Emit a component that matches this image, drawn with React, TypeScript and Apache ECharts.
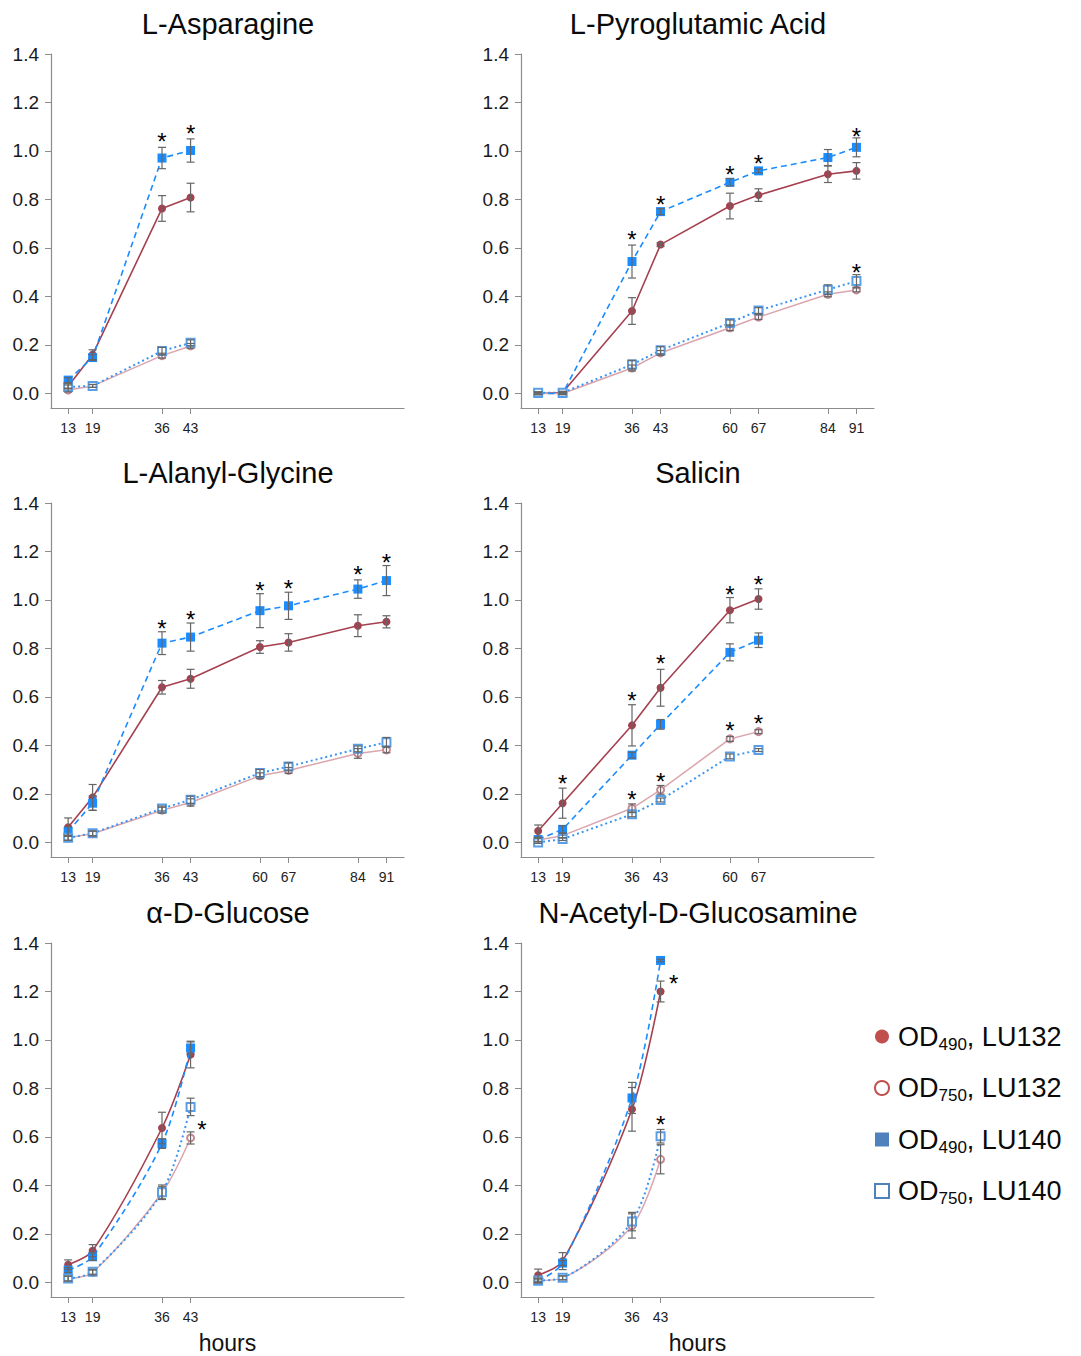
import React, { useEffect, useRef } from "react";
import * as echarts from "echarts";

const TITLES = ["L-Asparagine", "L-Pyroglutamic Acid", "L-Alanyl-Glycine", "Salicin", "α-D-Glucose", "N-Acetyl-D-Glucosamine"];
const SERIES_NAMES = ["OD490, LU132", "OD750, LU132", "OD490, LU140", "OD750, LU140"];
const Y_TICKS = [0, 0.2, 0.4, 0.6, 0.8, 1.0, 1.2, 1.4];
const X_AXIS_NAME = "hours";

// L-Asparagine
const ASN_HOURS = [13, 19, 36, 43];
const ASN_R490 = [0.03, 0.16, 0.763, 0.808];
const ASN_R490_ERR = [0.01, 0.02, 0.053, 0.059];
const ASN_R750 = [0.014, 0.031, 0.156, 0.196];
const ASN_R750_ERR = [0.008, 0.006, 0.01, 0.01];
const ASN_B490 = [0.055, 0.148, 0.971, 1.002];
const ASN_B490_ERR = [0.01, 0.012, 0.044, 0.048];
const ASN_B750 = [0.027, 0.031, 0.175, 0.209];
const ASN_B750_ERR = [0.008, 0.006, 0.015, 0.012];
const ASN_STARS = [[36, 1.064], [43, 1.095]];

// L-Pyroglutamic Acid
const PGA_HOURS = [13, 19, 36, 43, 60, 67, 84, 91];
const PGA_R490 = [0.0, 0.004, 0.34, 0.614, 0.773, 0.818, 0.904, 0.918];
const PGA_R490_ERR = [0.005, 0.005, 0.055, 0.008, 0.053, 0.026, 0.034, 0.034];
const PGA_R750 = [0.0, 0.0, 0.105, 0.167, 0.271, 0.315, 0.409, 0.427];
const PGA_R750_ERR = [0.004, 0.004, 0.012, 0.01, 0.012, 0.01, 0.01, 0.008];
const PGA_B490 = [0.0, 0.0, 0.544, 0.75, 0.871, 0.918, 0.973, 1.015];
const PGA_B490_ERR = [0.005, 0.005, 0.068, 0.012, 0.015, 0.008, 0.033, 0.039];
const PGA_B750 = [0.003, 0.003, 0.119, 0.178, 0.291, 0.342, 0.428, 0.464];
const PGA_B750_ERR = [0.004, 0.004, 0.018, 0.015, 0.012, 0.012, 0.02, 0.026];
const PGA_STARS = [[36, 0.661], [43, 0.806], [60, 0.928], [67, 0.972], [91, 1.085], [91, 0.525]];

// L-Alanyl-Glycine
const ALG_HOURS = [13, 19, 36, 43, 60, 67, 84, 91];
const ALG_R490 = [0.063, 0.186, 0.64, 0.675, 0.806, 0.825, 0.894, 0.91];
const ALG_R490_ERR = [0.038, 0.053, 0.028, 0.039, 0.026, 0.036, 0.045, 0.025];
const ALG_R750 = [0.019, 0.036, 0.133, 0.165, 0.275, 0.297, 0.367, 0.382];
const ALG_R750_ERR = [0.01, 0.01, 0.012, 0.015, 0.012, 0.012, 0.02, 0.012];
const ALG_B490 = [0.045, 0.162, 0.822, 0.847, 0.956, 0.976, 1.045, 1.08];
const ALG_B490_ERR = [0.02, 0.03, 0.047, 0.058, 0.07, 0.056, 0.038, 0.062];
const ALG_B750 = [0.019, 0.038, 0.14, 0.176, 0.286, 0.313, 0.386, 0.413];
const ALG_B750_ERR = [0.01, 0.01, 0.01, 0.015, 0.015, 0.015, 0.012, 0.02];
const ALG_STARS = [[36, 0.908], [43, 0.946], [60, 1.064], [67, 1.073], [84, 1.128], [91, 1.18]];

// Salicin
const SAL_HOURS = [13, 19, 36, 43, 60, 67];
const SAL_R490 = [0.047, 0.162, 0.483, 0.638, 0.958, 1.004];
const SAL_R490_ERR = [0.025, 0.062, 0.085, 0.076, 0.052, 0.042];
const SAL_R750 = [0.01, 0.028, 0.141, 0.217, 0.427, 0.457];
const SAL_R750_ERR = [0.008, 0.01, 0.018, 0.018, 0.01, 0.008];
const SAL_B490 = [0.012, 0.054, 0.36, 0.487, 0.784, 0.834];
const SAL_B490_ERR = [0.008, 0.015, 0.012, 0.02, 0.035, 0.03];
const SAL_B750 = [0.0, 0.014, 0.116, 0.175, 0.355, 0.381];
const SAL_B750_ERR = [0.004, 0.006, 0.01, 0.008, 0.01, 0.006];
const SAL_STARS = [[19, 0.268], [36, 0.61], [43, 0.762], [60, 1.049], [67, 1.088], [36, 0.203], [43, 0.276], [60, 0.486], [67, 0.516]];

// alpha-D-Glucose
const GLC_HOURS = [13, 19, 36, 43];
const GLC_R490 = [0.073, 0.131, 0.637, 0.94];
const GLC_R490_ERR = [0.02, 0.025, 0.065, 0.055];
const GLC_R750 = [0.016, 0.041, 0.37, 0.596];
const GLC_R750_ERR = [0.01, 0.01, 0.025, 0.025];
const GLC_B490 = [0.051, 0.106, 0.573, 0.967];
const GLC_B490_ERR = [0.01, 0.015, 0.02, 0.025];
const GLC_B750 = [0.016, 0.044, 0.372, 0.724];
const GLC_B750_ERR = [0.01, 0.01, 0.03, 0.036];
const GLC_STARS = [[45.8, 0.654]];

// N-Acetyl-D-Glucosamine
const NAG_HOURS = [13, 19, 36, 43];
const NAG_R490 = [0.03, 0.088, 0.714, 1.2];
const NAG_R490_ERR = [0.025, 0.035, 0.09, 0.043];
const NAG_R750 = [0.008, 0.019, 0.233, 0.508];
const NAG_R750_ERR = [0.01, 0.008, 0.05, 0.06];
const NAG_B490 = [0.006, 0.08, 0.761, 1.328];
const NAG_B490_ERR = [0.008, 0.01, 0.064, 0.005];
const NAG_B750 = [0.008, 0.019, 0.251, 0.603];
const NAG_B750_ERR = [0.008, 0.008, 0.038, 0.028];
const NAG_STARS = [[46.2, 1.259], [43, 0.675]];

const PANELS = [
  { hours: ASN_HOURS, vals: [ASN_R490, ASN_R750, ASN_B490, ASN_B750], errs: [ASN_R490_ERR, ASN_R750_ERR, ASN_B490_ERR, ASN_B750_ERR], stars: ASN_STARS, smooth: false },
  { hours: PGA_HOURS, vals: [PGA_R490, PGA_R750, PGA_B490, PGA_B750], errs: [PGA_R490_ERR, PGA_R750_ERR, PGA_B490_ERR, PGA_B750_ERR], stars: PGA_STARS, smooth: false },
  { hours: ALG_HOURS, vals: [ALG_R490, ALG_R750, ALG_B490, ALG_B750], errs: [ALG_R490_ERR, ALG_R750_ERR, ALG_B490_ERR, ALG_B750_ERR], stars: ALG_STARS, smooth: false },
  { hours: SAL_HOURS, vals: [SAL_R490, SAL_R750, SAL_B490, SAL_B750], errs: [SAL_R490_ERR, SAL_R750_ERR, SAL_B490_ERR, SAL_B750_ERR], stars: SAL_STARS, smooth: false },
  { hours: GLC_HOURS, vals: [GLC_R490, GLC_R750, GLC_B490, GLC_B750], errs: [GLC_R490_ERR, GLC_R750_ERR, GLC_B490_ERR, GLC_B750_ERR], stars: GLC_STARS, smooth: true },
  { hours: NAG_HOURS, vals: [NAG_R490, NAG_R750, NAG_B490, NAG_B750], errs: [NAG_R490_ERR, NAG_R750_ERR, NAG_B490_ERR, NAG_B750_ERR], stars: NAG_STARS, smooth: true },
];

const FONT = "'Liberation Sans', Arial, Helvetica, sans-serif";

const GRID_LEFTS = [51, 521];
const GRID_TOPS = [54, 503, 943];
const GRID_W = 353;
const GRID_H = 354;

const STYLES = [
  { line: "#a5404f", type: "solid", width: 1.6, symbol: "circle", size: 8, item: "#a5404f" },
  { line: "#dba5ae", type: "solid", width: 1.5, symbol: "emptyCircle", size: 7, item: "#c48892" },
  { line: "#1a8cff", type: [6, 4], width: 1.6, symbol: "rect", size: 9, item: "#1a8cff" },
  { line: "#3a95f2", type: [2, 3], width: 2, symbol: "emptyRect", size: 8, item: "#5a9fe6" },
];

const LEGEND_ICON = [
  { icon: "circle", itemStyle: { color: "#c0504d", borderWidth: 0 } },
  { icon: "circle", itemStyle: { color: "#ffffff", borderColor: "#c0504d", borderWidth: 2 } },
  { icon: "rect", itemStyle: { color: "#4f81bd", borderWidth: 0 } },
  { icon: "rect", itemStyle: { color: "#ffffff", borderColor: "#4f81bd", borderWidth: 2 } },
];

function buildOption() {
  const grid: any[] = [];
  const xAxis: any[] = [];
  const yAxis: any[] = [];
  const title: any[] = [];
  const series: any[] = [];

  PANELS.forEach((p, i) => {
    const col = i % 2;
    const row = Math.floor(i / 2);
    const left = GRID_LEFTS[col];
    const top = GRID_TOPS[row];
    grid.push({ left, top, width: GRID_W, height: GRID_H, containLabel: false });
    title.push({
      text: TITLES[i],
      left: left + GRID_W / 2 + 0.5,
      top: top - 46,
      padding: 0,
      textAlign: "center",
      textStyle: { fontFamily: FONT, fontSize: 29, fontWeight: "normal", color: "#0a0a0a", lineHeight: 32 },
    });
    xAxis.push({
      type: "value",
      gridIndex: i,
      min: 8.8,
      max: 95.3,
      name: row === 2 ? X_AXIS_NAME : "",
      nameLocation: "middle",
      nameGap: 34,
      nameTextStyle: { fontFamily: FONT, fontSize: 23, color: "#111" },
      axisLine: { show: true, onZero: false, lineStyle: { color: "#8c8c8c", width: 1.2 } },
      axisTick: { show: true, length: 6, customValues: p.hours, lineStyle: { color: "#8c8c8c" } },
      axisLabel: { customValues: p.hours, margin: 13, fontFamily: FONT, fontSize: 14, color: "#222" },
      splitLine: { show: false },
    });
    yAxis.push({
      type: "value",
      gridIndex: i,
      min: -0.06,
      max: 1.4,
      axisLine: { show: true, onZero: false, lineStyle: { color: "#8c8c8c", width: 1.2 } },
      axisTick: { show: true, length: 6, customValues: Y_TICKS, lineStyle: { color: "#8c8c8c" } },
      axisLabel: {
        customValues: Y_TICKS,
        margin: 12,
        fontFamily: FONT,
        fontSize: 19,
        color: "#1a1a1a",
        formatter: (v: number) => v.toFixed(1),
      },
      splitLine: { show: false },
    });

    p.vals.forEach((vals, s) => {
      const st = STYLES[s];
      series.push({
        type: "line",
        name: SERIES_NAMES[s],
        xAxisIndex: i,
        yAxisIndex: i,
        data: p.hours.map((h, k) => [h, vals[k]]),
        smooth: p.smooth ? 0.3 : false,
        symbol: st.symbol,
        symbolSize: st.size,
        showAllSymbol: true,
        lineStyle: { color: st.line, type: st.type, width: st.width },
        itemStyle: { color: st.item, borderWidth: st.symbol.startsWith("empty") ? 1.3 : 0 },
        z: 2 + s * 0.1,
        emphasis: { disabled: true },
      });
    });

    const errData: number[][] = [];
    p.vals.forEach((vals, s) => {
      p.hours.forEach((h, k) => {
        const e = p.errs[s][k];
        errData.push([h, vals[k] - e, vals[k] + e]);
      });
    });
    series.push({
      type: "custom",
      xAxisIndex: i,
      yAxisIndex: i,
      data: errData,
      encode: { x: 0, y: [1, 2] },
      z: 5,
      silent: true,
      renderItem: (params: any, api: any) => {
        const x = api.value(0);
        const lo = api.coord([x, api.value(1)]);
        const hi = api.coord([x, api.value(2)]);
        const w = 4;
        const style = { stroke: "#666666", lineWidth: 1.2 };
        return {
          type: "group",
          children: [
            { type: "line", shape: { x1: hi[0], y1: hi[1], x2: lo[0], y2: lo[1] }, style },
            { type: "line", shape: { x1: hi[0] - w, y1: hi[1], x2: hi[0] + w, y2: hi[1] }, style },
            { type: "line", shape: { x1: lo[0] - w, y1: lo[1], x2: lo[0] + w, y2: lo[1] }, style },
          ],
        };
      },
    });

    series.push({
      type: "custom",
      xAxisIndex: i,
      yAxisIndex: i,
      data: p.stars,
      encode: { x: 0, y: 1 },
      z: 6,
      silent: true,
      renderItem: (params: any, api: any) => {
        const pt = api.coord([api.value(0), api.value(1)]);
        return {
          type: "text",
          x: pt[0],
          y: pt[1] + 6,
          style: { text: "*", font: `24px ${FONT}`, fill: "#000", align: "center", verticalAlign: "middle" },
        };
      },
    });
  });

  const legend = {
    orient: "vertical",
    left: 874,
    top: 1023,
    padding: 0,
    itemWidth: 14,
    itemHeight: 14,
    itemGap: 22,
    selectedMode: false,
    data: SERIES_NAMES.map((n, s) => ({ name: n, icon: LEGEND_ICON[s].icon, itemStyle: LEGEND_ICON[s].itemStyle })),
    formatter: (name: string) => {
      const m = name.match(/^OD(\d+), (.+)$/);
      if (!m) return name;
      return `{p|OD}{s|${m[1]}}{a|, ${m[2]}}`;
    },
    textStyle: {
      fontFamily: FONT,
      color: "#111",
      rich: {
        p: { fontFamily: FONT, fontSize: 27, color: "#0a0a0a", lineHeight: 32, padding: [0, 0, 0, 4] },
        a: { fontFamily: FONT, fontSize: 27, color: "#0a0a0a", lineHeight: 32 },
        s: { fontFamily: FONT, fontSize: 17, color: "#0a0a0a", verticalAlign: "bottom" },
      },
    },
  };

  return {
    animation: false,
    backgroundColor: "#ffffff",
    title,
    grid,
    xAxis,
    yAxis,
    legend,
    series,
  };
}

export default function App() {
  const ref = useRef<HTMLDivElement>(null);
  useEffect(() => {
    if (!ref.current) return;
    const chart = echarts.init(ref.current, undefined, { renderer: "svg" });
    chart.setOption(buildOption() as any);
    return () => chart.dispose();
  }, []);
  return <div ref={ref} style={{ position: "absolute", left: 0, top: 0, width: 1081, height: 1356 }} />;
}
